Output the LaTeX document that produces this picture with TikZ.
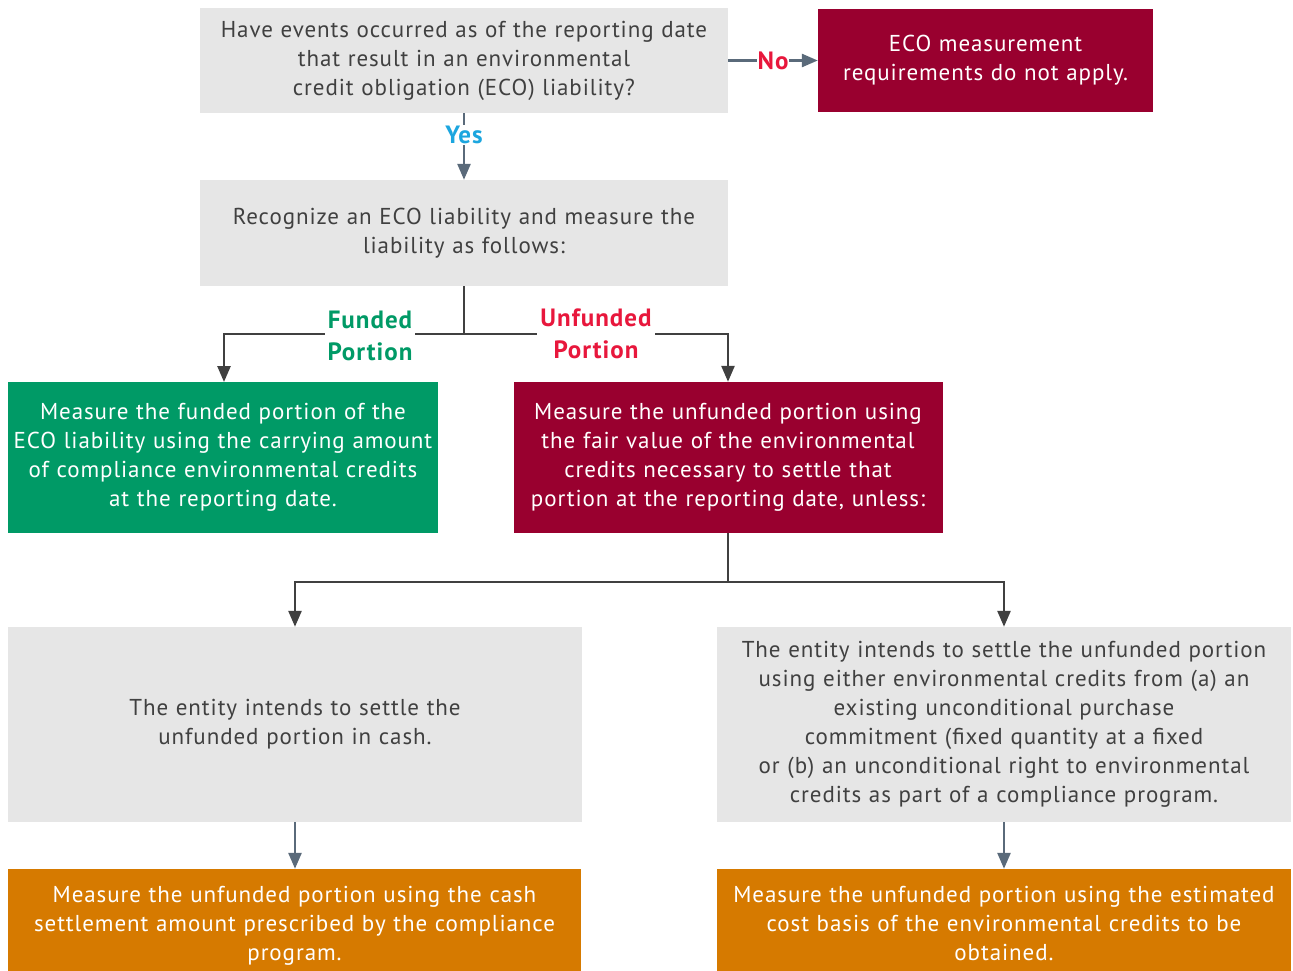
\documentclass[tikz,border=0pt]{standalone}
\usepackage{fontspec}
\setmainfont[LetterSpace=4]{PT Sans}
\usetikzlibrary{arrows.meta}
\definecolor{boxgray}{HTML}{E6E6E6}
\definecolor{txtgray}{HTML}{404040}
\definecolor{crim}{HTML}{99002F}
\definecolor{grn}{HTML}{009A66}
\definecolor{org}{HTML}{D67A00}
\definecolor{slate}{HTML}{5A6A7A}
\definecolor{redlbl}{HTML}{E8173C}
\definecolor{bluelbl}{HTML}{1CA6DF}
\definecolor{dark}{HTML}{404040}
\tikzset{
  base/.style={rectangle, inner sep=0pt, align=center, font=\fontsize{23}{29}\selectfont},
  graybox/.style={base, fill=boxgray, text=txtgray},
  crimbox/.style={base, fill=crim, text=white},
  grnbox/.style={base, fill=grn, text=white},
  orgbox/.style={base, fill=org, text=white},
  darkarrow/.style={draw=dark, line width=2.6pt, -{Triangle[width=13pt,length=16pt]}},
  darkline/.style={draw=dark, line width=2.6pt},
  slatearrow/.style={draw=slate, line width=2.6pt, -{Triangle[width=13pt,length=16pt]}},
  lbl/.style={font=\fontsize{25}{32}\selectfont\bfseries, align=center, fill=white, inner sep=2pt}
}
\begin{document}
\begin{tikzpicture}[x=1pt,y=-1pt]
\useasboundingbox (0,0) rectangle (1293,971);
% boxes
\node[graybox, minimum width=528pt, minimum height=105pt, text width=524pt] (q) at (464,60.5)
  {Have events occurred as of the reporting date\\ that result in an environmental\\ credit obligation (ECO) liability?};
\node[crimbox, minimum width=335pt, minimum height=103pt, text width=330pt] (no) at (985.5,60.5)
  {ECO measurement\\ requirements do not apply.};
\node[graybox, minimum width=528pt, minimum height=106pt, text width=524pt] (rec) at (464,233)
  {Recognize an ECO liability and measure the\\ liability as follows:};
\node[grnbox, minimum width=430pt, minimum height=151pt, text width=428pt] (fund) at (223,457.5)
  {Measure the funded portion of the\\ ECO liability using the carrying amount\\ of compliance environmental credits\\ at the reporting date.};
\node[crimbox, minimum width=429pt, minimum height=151pt, text width=426pt] (unf) at (728,457.5)
  {Measure the unfunded portion using\\ the fair value of the environmental\\ credits necessary to settle that\\ portion at the reporting date, unless:};
\node[graybox, minimum width=574pt, minimum height=195pt, text width=570pt] (cash) at (295,724.5)
  {The entity intends to settle the\\ unfunded portion in cash.};
\node[graybox, minimum width=574pt, minimum height=195pt, text width=570pt] (cred) at (1004,724.5)
  {The entity intends to settle the unfunded portion\\ using either environmental credits from (a) an\\ existing unconditional purchase\\ commitment (fixed quantity at a fixed\\ or (b) an unconditional right to environmental\\ credits as part of a compliance program.};
\node[orgbox, minimum width=573pt, minimum height=117pt, text width=570pt] (ocash) at (294.5,927.5)
  {Measure the unfunded portion using the cash\\ settlement amount prescribed by the compliance\\ program.\strut};
\node[orgbox, minimum width=574pt, minimum height=117pt, text width=570pt] (ocred) at (1004,927.5)
  {Measure the unfunded portion using the estimated\\ cost basis of the environmental credits to be\\ obtained.\strut};
% No arrow
\draw[slatearrow] (q.east) -- (no.west) node[midway, lbl, text=redlbl, inner sep=1pt] (nolbl) {No};
% Yes arrow
\draw[slatearrow] (q.south) -- (rec.north) node[pos=0.33, lbl, text=bluelbl, inner sep=1pt] (yeslbl) {Yes};
% split to funded / unfunded
\coordinate (s1) at (464,334);
\coordinate (fa) at (224,382);
\draw[darkline] (rec.south) -- (s1);
\draw[darkarrow] (s1) -| (fa);
\draw[darkarrow] (s1) -| (unf.north);
\node[lbl, text=grn, inner sep=3pt] (fl) at (370,336) {Funded\\ Portion};
\node[lbl, text=redlbl, inner sep=3pt] (ul) at (596,334) {Unfunded\\ Portion};
% split to cash / credits
\coordinate (s2) at (728,582);
\draw[darkline] (unf.south) -- (s2);
\draw[darkarrow] (s2) -| (cash.north);
\draw[darkarrow] (s2) -| (cred.north);
% to orange
\draw[slatearrow] (cash.south) -- (ocash.north -| cash.south);
\draw[slatearrow] (cred.south) -- (ocred.north -| cred.south);
\end{tikzpicture}
\end{document}
